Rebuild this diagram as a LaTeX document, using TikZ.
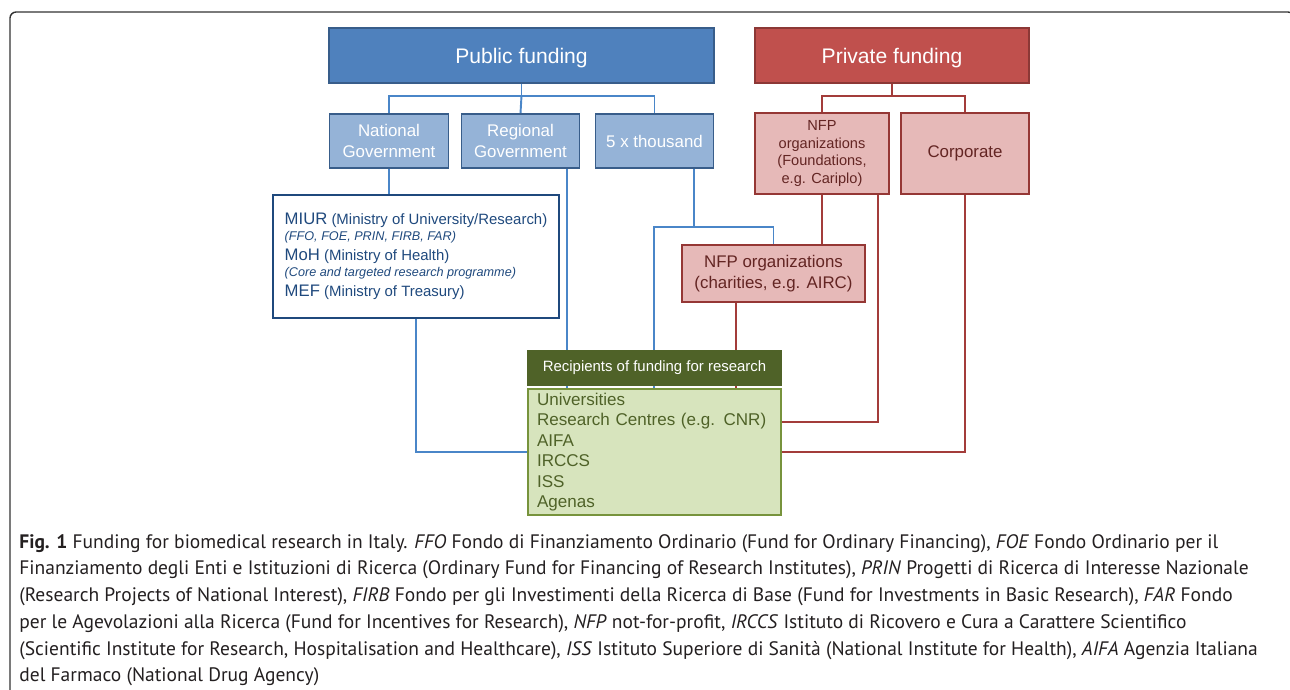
\documentclass[tikz,border=0pt]{standalone}
\usepackage{fontspec}
\setmainfont{Liberation Sans}
\newfontfamily\capfont{PT Sans}
\usetikzlibrary{calc,backgrounds}

\definecolor{pubblue}{HTML}{4F81BD}
\definecolor{pubedge}{HTML}{385D8A}
\definecolor{subblue}{HTML}{95B3D7}
\definecolor{miurblue}{HTML}{1F497D}
\definecolor{linkblue}{HTML}{4A86C8}
\definecolor{privred}{HTML}{C0504D}
\definecolor{privedge}{HTML}{8C3836}
\definecolor{pinkfill}{HTML}{E6B9B8}
\definecolor{pinkedge}{HTML}{953735}
\definecolor{redtext}{HTML}{632523}
\definecolor{linkred}{HTML}{A33C3A}
\definecolor{headgreen}{HTML}{4F6228}
\definecolor{bodygreen}{HTML}{D7E4BD}
\definecolor{edgegreen}{HTML}{77933C}
\definecolor{framegray}{HTML}{333333}
\definecolor{captext}{HTML}{231F20}

\begin{document}
\begin{tikzpicture}[x=0.02cm,y=-0.02cm,
  box/.style={draw,line width=0.8pt,inner sep=0pt,align=center},
  head node/.style={box,minimum height=1.1cm,text=white,text depth=0pt,font=\fontsize{12}{14}\selectfont},
  blue node/.style={box,fill=subblue,draw=pubedge,text=white,minimum width=2.37cm,minimum height=1.08cm,font=\fontsize{9.6}{11.5}\selectfont},
  pink node/.style={box,fill=pinkfill,draw=pinkedge,text=redtext,minimum height=1.62cm},
  blue link/.style={draw=linkblue,line width=1.1pt},
  red link/.style={draw=linkred,line width=1.1pt}]

  \useasboundingbox (0,0) rectangle (1290,689);

  % funding sources
  \node[head node,fill=pubblue,draw=pubedge,minimum width=7.7cm] (pub) at (521.5,55.5) {Public funding};
  \node[head node,fill=privred,draw=privedge,minimum width=5.48cm] (priv) at (892,55.5) {Private funding};

  \node[blue node] (nat) at (389,141) {National\\Government};
  \node[blue node] (reg) at (520.5,141) {Regional\\Government};
  \node[blue node] (five) at (654.5,141) {5 x thousand};

  \node[pink node,minimum width=2.68cm,font=\fontsize{8.3}{9.9}\selectfont] (found) at (822,153.5) {NFP\\organizations\\(Foundations,\\e.g. Cariplo)};
  \node[pink node,minimum width=2.56cm,font=\fontsize{9.6}{11.5}\selectfont] (corp) at (965,153.5) {Corporate};

  % ministries
  \node[box,draw=miurblue,line width=1.1pt,text=miurblue,minimum width=5.72cm,minimum height=2.46cm,align=left,
    font=\fontsize{8.5}{9.1}\selectfont] (miur) at (416,256.5)
    {{\fontsize{9.5}{9.1}\selectfont MIUR} (Ministry of University/Research)\\
     {\fontsize{7.2}{9.1}\selectfont\itshape (FFO, FOE, PRIN, FIRB, FAR)}\\[2.2pt]
     {\fontsize{9.5}{9.1}\selectfont MoH} (Ministry of Health)\\
     {\fontsize{7.2}{9.1}\selectfont\itshape (Core and targeted research programme)}\\[2.2pt]
     {\fontsize{9.5}{9.1}\selectfont MEF} (Ministry of Treasury)};

  \node[pink node,minimum width=3.66cm,minimum height=1.14cm,font=\fontsize{9.6}{11.7}\selectfont] (charity) at (773.5,273.5) {NFP organizations\\(charities, e.g. AIRC)};

  % recipients
  \node[box,fill=headgreen,draw=headgreen,text=white,minimum width=5.06cm,minimum height=0.68cm,
    font=\fontsize{8.5}{10}\selectfont] (recip) at (654.5,368) {Recipients of funding for research};
  \node[box,fill=bodygreen,draw=edgegreen,line width=1.1pt,text=headgreen,text width=4.7cm,inner xsep=0.18cm,
    minimum height=2.52cm,align=left,font=\fontsize{9.7}{11.7}\selectfont] (body) at (654.5,452)
    {Universities\\Research Centres (e.g. CNR)\\AIFA\\IRCCS\\ISS\\Agenas};

  \begin{pgfonlayer}{background}
    \draw[line width=0.8pt,draw=framegray,rounded corners=3.5pt] (10,720) -- (10,12) -- (1294,12) -- (1294,720);

    % public money
    \draw[blue link] (pub.south) -- ++(0,12) coordinate (pubsplit);
    \draw[blue link] (nat.north) |- (pubsplit) -| (five.north);
    \draw[blue link] (pubsplit) -- (reg.north);
    \draw[blue link] (nat.south) -- (nat.south |- miur.north);
    \draw[blue link] (miur.south) |- (body.west);
    \draw[blue link] ($(reg.south east)+(-13,0)$) coordinate (regdrop) -- (regdrop |- body.north);
    \draw[blue link] ($(five.south east)+(-20,0)$) -- ++(0,58) coordinate (fivesplit);
    \draw[blue link] (fivesplit) -- ++(-40,0) coordinate (fiveleft) -- (fiveleft |- body.north);
    \draw[blue link] (fiveleft) -| (charity.north);

    % private money
    \draw[red link] (priv.south) -- ++(0,12) coordinate (privsplit);
    \draw[red link] (found.north) |- (privsplit) -| (corp.north);
    \draw[red link] (found.south) -- (found.south |- charity.north);
    \draw[red link] ($(found.south east)+(-12,0)$) |- ($(body.east)+(0,-30)$);
    \draw[red link] (corp.south) |- (body.east);
    \draw[red link] ($(charity.south west)+(55,0)$) coordinate (chardrop) -- (chardrop |- body.north);
  \end{pgfonlayer}

  \node[anchor=north west,inner sep=0pt,align=left,text=captext,font=\capfont\fontsize{11.1}{15.2}\selectfont] (caption) at (19,534)
    {\textbf{Fig. 1} Funding for biomedical research in Italy. \textit{FFO} Fondo di Finanziamento Ordinario (Fund for Ordinary Financing), \textit{FOE} Fondo Ordinario per il\\
     Finanziamento degli Enti e Istituzioni di Ricerca (Ordinary Fund for Financing of Research Institutes), \textit{PRIN} Progetti di Ricerca di Interesse Nazionale\\
     (Research Projects of National Interest), \textit{FIRB} Fondo per gli Investimenti della Ricerca di Base (Fund for Investments in Basic Research), \textit{FAR} Fondo\\
     per le Agevolazioni alla Ricerca (Fund for Incentives for Research), \textit{NFP} not-for-profit, \textit{IRCCS} Istituto di Ricovero e Cura a Carattere Scientifico\\
     (Scientific Institute for Research, Hospitalisation and Healthcare), \textit{ISS} Istituto Superiore di Sanità (National Institute for Health), \textit{AIFA} Agenzia Italiana\\
     del Farmaco (National Drug Agency)};
\end{tikzpicture}
\end{document}
